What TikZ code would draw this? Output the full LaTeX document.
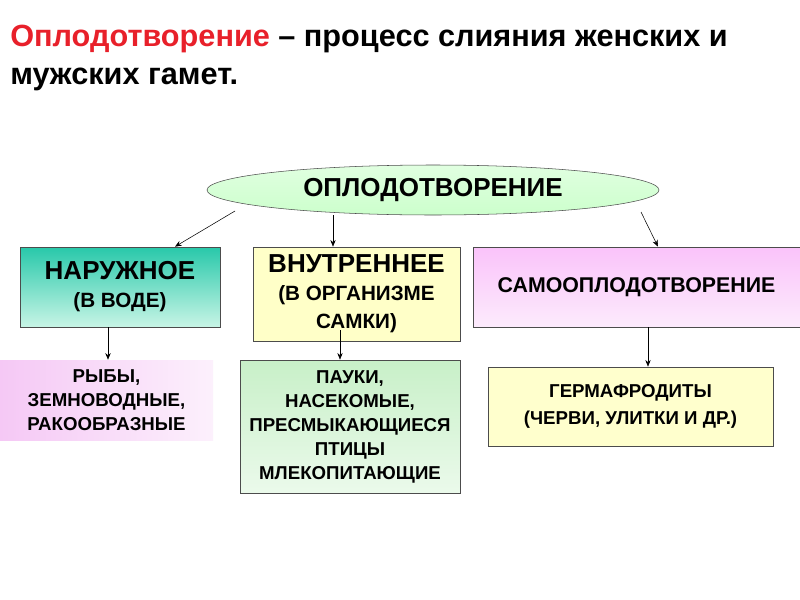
\documentclass[tikz,border=0pt]{standalone}
\usepackage{fontspec}
\setmainfont{Liberation Sans}
\usetikzlibrary{shapes.geometric,arrows.meta}
\begin{document}
\begin{tikzpicture}[x=0.75pt,y=-0.75pt,
  bx/.style={draw=black!70,line width=0.5pt,align=center,font=\bfseries\fontsize{16}{20}\selectfont,inner sep=0pt},
  ar/.style={-{Stealth[length=5pt,width=4pt]},line width=0.4pt}]
\useasboundingbox (0,0) rectangle (800,600);
\fill[white] (0,0) rectangle (800,600);
\node[anchor=north west,align=left,font=\bfseries\fontsize{23}{28}\selectfont,inner sep=0pt] (t) at (10,25)
 {\textcolor[HTML]{E8202A}{Оплодотворение} – процесс слияния женских и\\мужских гамет.};
\node[ellipse,draw=black!70,top color=white!70!green!40,bottom color=green!20,minimum width=452*0.75pt,minimum height=50*0.75pt,inner sep=0pt,font=\bfseries\fontsize{19.5}{22}\selectfont] (e) at (433,190) {ОПЛОДОТВОРЕНИЕ};
\node[bx,top color={rgb,255:red,40;green,200;blue,170},bottom color={rgb,255:red,200;green,245;blue,230},minimum width=200*0.75pt,minimum height=80*0.75pt,font=\bfseries\fontsize{15.5}{21}\selectfont] (n) at (120,287) {{\fontsize{19.5}{22}\selectfont НАРУЖНОЕ}\\(В ВОДЕ)};
\node[bx,fill={rgb,255:red,255;green,255;blue,200},minimum width=207*0.75pt,minimum height=94*0.75pt,font=\bfseries\fontsize{15.5}{21}\selectfont] (v) at (356.5,294) {{\fontsize{19.5}{22}\selectfont ВНУТРЕННЕЕ}\\(В ОРГАНИЗМЕ\\САМКИ)};
\node[bx,top color={rgb,255:red,250;green,195;blue,250},bottom color={rgb,255:red,252;green,235;blue,252},minimum width=327*0.75pt,minimum height=80*0.75pt] (s) at (636.5,287) {САМООПЛОДОТВОРЕНИЕ};
\node[align=center,font=\bfseries\fontsize{14}{18}\selectfont,inner sep=0pt,left color={rgb,255:red,245;green,200;blue,245},right color={rgb,255:red,252;green,240;blue,252},minimum width=213*0.75pt,minimum height=80*0.75pt] (r) at (106.5,400) {РЫБЫ,\\ЗЕМНОВОДНЫЕ,\\РАКООБРАЗНЫЕ};
\node[bx,font=\bfseries\fontsize{14}{18}\selectfont,top color={rgb,255:red,200;green,240;blue,200},bottom color={rgb,255:red,235;green,250;blue,235},minimum width=220*0.75pt,minimum height=133*0.75pt] (p) at (350,426.5) {ПАУКИ,\\НАСЕКОМЫЕ,\\ПРЕСМЫКАЮЩИЕСЯ\\ПТИЦЫ\\МЛЕКОПИТАЮЩИЕ};
\node[bx,font=\bfseries\fontsize{14}{20}\selectfont,fill={rgb,255:red,255;green,255;blue,205},minimum width=285*0.75pt,minimum height=79*0.75pt] (g) at (630.5,406.5) {ГЕРМАФРОДИТЫ\\(ЧЕРВИ, УЛИТКИ И ДР.)};
\coordinate (a1) at (235,211); \coordinate (a2) at (333,215); \coordinate (a3) at (641,212);
\coordinate (b1) at (108,327); \coordinate (b2) at (340,330); \coordinate (b3) at (648,327);
\draw[ar] (a1) -- (n.north west -| 175,0);
\draw[ar] (a2) -- (v.north -| 333,0);
\draw[ar] (a3) -- (s.north -| 658,0);
\draw[ar] (b1) -- (r.north -| 108,0);
\draw[ar] (b2) -- (p.north -| 340,0);
\draw[ar] (b3) -- (g.north -| 648,0);
\end{tikzpicture}
\end{document}
